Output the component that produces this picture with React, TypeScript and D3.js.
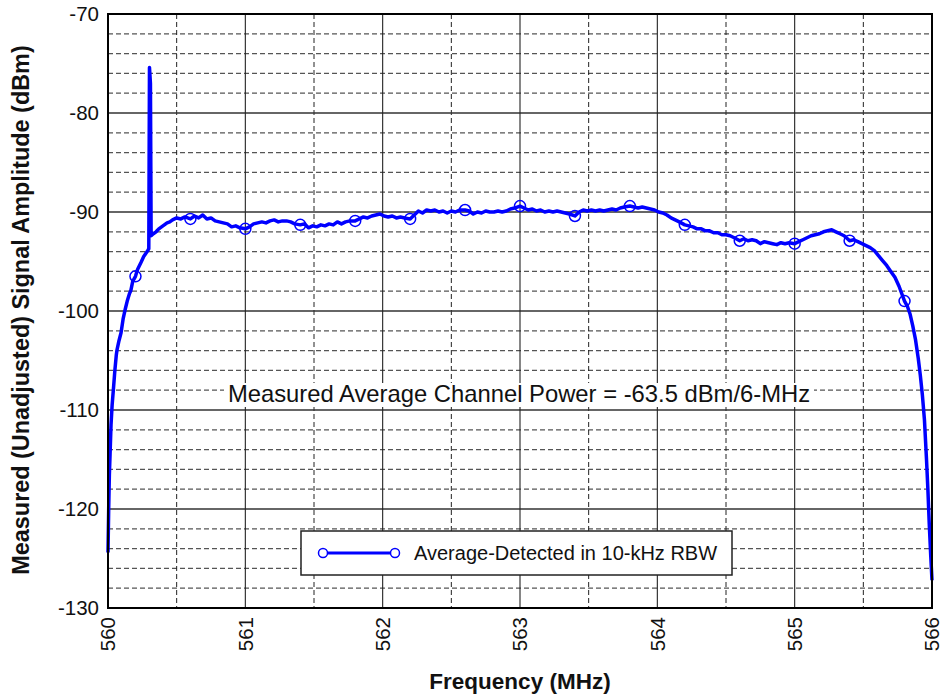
import React from "react";
import * as d3 from "d3";

// ---- data ----
const freqMHz: number[] = [
  560.0, 560.005, 560.01, 560.015, 560.022, 560.03, 560.04, 560.05, 560.06, 560.066, 560.08, 560.095,
  560.11, 560.124, 560.14, 560.155, 560.167, 560.18, 560.2, 560.215, 560.24, 560.26, 560.28, 560.29,
  560.297, 560.302, 560.309, 560.314, 560.33, 560.35, 560.37, 560.39, 560.41, 560.43, 560.45, 560.47,
  560.5, 560.53, 560.56, 560.6, 560.63, 560.66, 560.69, 560.72, 560.75, 560.78, 560.81, 560.84, 560.87,
  560.9, 560.93, 560.96, 561.0, 561.03, 561.06, 561.09, 561.12, 561.15, 561.18, 561.21, 561.24, 561.27,
  561.3, 561.33, 561.36, 561.4, 561.43, 561.46, 561.49, 561.52, 561.55, 561.58, 561.61, 561.64, 561.67,
  561.7, 561.73, 561.76, 561.8, 561.83, 561.86, 561.89, 561.92, 561.95, 561.98, 562.01, 562.04, 562.07,
  562.1, 562.13, 562.16, 562.2, 562.23, 562.26, 562.29, 562.32, 562.35, 562.38, 562.41, 562.44, 562.47,
  562.5, 562.53, 562.56, 562.6, 562.63, 562.66, 562.69, 562.72, 562.75, 562.78, 562.81, 562.84, 562.87,
  562.9, 562.93, 562.96, 563.0, 563.03, 563.06, 563.09, 563.12, 563.15, 563.18, 563.21, 563.24, 563.27,
  563.3, 563.33, 563.36, 563.4, 563.43, 563.46, 563.49, 563.52, 563.55, 563.58, 563.61, 563.64, 563.67,
  563.7, 563.73, 563.76, 563.8, 563.83, 563.86, 563.89, 563.92, 563.95, 563.98, 564.01, 564.04, 564.07,
  564.1, 564.13, 564.16, 564.2, 564.23, 564.26, 564.29, 564.32, 564.35, 564.38, 564.41, 564.44, 564.47,
  564.5, 564.53, 564.56, 564.6, 564.63, 564.66, 564.69, 564.72, 564.75, 564.78, 564.81, 564.84, 564.87,
  564.9, 564.93, 564.96, 565.0, 565.03, 565.06, 565.09, 565.12, 565.15, 565.18, 565.21, 565.24, 565.27,
  565.3, 565.33, 565.36, 565.4, 565.43, 565.46, 565.49, 565.52, 565.55, 565.58, 565.61, 565.64, 565.67,
  565.7, 565.73, 565.76, 565.8, 565.82, 565.84, 565.86, 565.88, 565.9, 565.915, 565.93, 565.945, 565.96,
  565.97, 565.98, 565.99, 566.0,
];

const amplitudeDbm: number[] = [
  -124.4, -120.0, -116.5, -114.5, -111.5, -109.5, -107.8, -106.0, -104.5, -103.9, -103.0, -102.2,
  -100.8, -99.9, -99.0, -98.3, -97.9, -97.0, -96.5, -95.8, -95.1, -94.5, -94.1, -93.9,
  -93.7, -75.4, -77.0, -92.4, -92.2, -92.0, -91.7, -91.5, -91.3, -91.1, -91.0, -90.8,
  -90.6, -90.7, -90.5, -90.7, -90.4, -90.6, -90.3, -90.7, -90.6, -90.9, -91.0, -91.1, -91.2,
  -91.5, -91.4, -91.6, -91.7, -91.5, -91.2, -91.1, -91.0, -91.1, -90.9, -90.8, -91.0, -90.9,
  -90.9, -91.0, -91.2, -91.3, -91.2, -91.6, -91.4, -91.5, -91.3, -91.4, -91.2, -91.3, -91.0,
  -91.2, -91.0, -90.9, -90.9, -90.7, -90.5, -90.6, -90.4, -90.3, -90.2, -90.4, -90.5, -90.4,
  -90.6, -90.5, -90.6, -90.7, -90.3, -89.9, -90.1, -89.8, -89.9, -89.8, -90.0, -89.9, -90.1,
  -89.9, -90.0, -89.8, -89.8, -89.9, -90.2, -90.0, -90.1, -89.9, -90.0, -90.0, -89.9, -90.0,
  -89.9, -89.7, -89.6, -89.4, -89.6, -89.8, -89.7, -89.9, -89.8, -90.0, -89.9, -90.0, -89.9,
  -90.0, -90.1, -90.2, -90.4, -90.0, -89.8, -89.9, -89.8, -89.9, -89.8, -89.9, -89.8, -89.7,
  -89.8, -89.6, -89.5, -89.4, -89.5, -89.6, -89.5, -89.6, -89.7, -89.8, -90.0, -90.1, -90.3,
  -90.6, -90.8, -91.0, -91.3, -91.4, -91.5, -91.7, -91.7, -91.9, -91.9, -92.1, -92.1, -92.3,
  -92.3, -92.4, -92.6, -92.9, -92.7, -92.9, -92.8, -92.9, -93.2, -93.0, -93.1, -93.2, -93.3,
  -93.1, -93.2, -93.1, -93.2, -93.0, -92.8, -92.6, -92.4, -92.3, -92.2, -92.0, -91.9, -91.8,
  -92.0, -92.2, -92.4, -92.9, -92.8, -93.0, -93.2, -93.4, -93.6, -93.9, -94.4, -94.9, -95.4,
  -96.0, -96.6, -97.5, -99.0, -99.5, -100.3, -101.5, -102.9, -104.8, -106.5, -108.5, -111.0, -115.0,
  -118.0, -121.5, -124.5, -127.2,
];

const markerFreqs: number[] = [560.2, 560.6, 561.0, 561.4, 561.8, 562.2, 562.6, 563.0, 563.4, 563.8, 564.2, 564.6, 565.0, 565.4, 565.8];

const xTicks: number[] = [560, 561, 562, 563, 564, 565, 566];
const yTicks: number[] = [-70, -80, -90, -100, -110, -120, -130];
const xMinor: number[] = [560.5, 561.5, 562.5, 563.5, 564.5, 565.5];
const yMinor: number[] = [-72, -74, -76, -78, -82, -84, -86, -88, -92, -94, -96, -98, -102, -104, -106, -108, -112, -114, -116, -118, -122, -124, -126, -128];

const seriesLabel = "Average-Detected in 10-kHz RBW";
const annotation = "Measured Average Channel Power = -63.5 dBm/6-MHz";
const xTitle = "Frequency (MHz)";
const yTitle = "Measured (Unadjusted) Signal Amplitude (dBm)";

const W = 940;
const H = 698;
const left = 108, right = 932, top = 14, bottom = 608;
const FONT = "Arial, 'Liberation Sans', Helvetica, sans-serif";
const BLUE = "#0000ff";

export default function App() {
  const x = d3.scaleLinear().domain([560, 566]).range([left, right]);
  const y = d3.scaleLinear().domain([-130, -70]).range([bottom, top]);
  const pts: [number, number][] = freqMHz.map((f, i) => [f, amplitudeDbm[i]]);
  const line = d3.line<[number, number]>().x(d => x(d[0])).y(d => y(d[1]));
  const markers = markerFreqs.map(mf => {
    let best = pts[0];
    for (const p of pts) if (Math.abs(p[0] - mf) < Math.abs(best[0] - mf)) best = p;
    return best;
  });

  return (
    <svg width={W} height={H} style={{ position: "absolute", left: 0, top: 0, background: "#fff" }} fontFamily={FONT}>
      <rect x={0} y={0} width={W} height={H} fill="#fff" />
      {/* minor grid */}
      {yMinor.map(v => (
        <line key={"ym" + v} x1={left} x2={right} y1={y(v)} y2={y(v)} stroke="#555" strokeWidth={1.2} strokeDasharray="5,3" />
      ))}
      {xMinor.map(v => (
        <line key={"xm" + v} x1={x(v)} x2={x(v)} y1={top} y2={bottom} stroke="#222" strokeWidth={1} strokeDasharray="5,3" />
      ))}
      {/* major grid */}
      {yTicks.map(v => (
        <line key={"yM" + v} x1={left} x2={right} y1={y(v)} y2={y(v)} stroke="#333" strokeWidth={1.3} />
      ))}
      {xTicks.map(v => (
        <line key={"xM" + v} x1={x(v)} x2={x(v)} y1={top} y2={bottom} stroke="#222" strokeWidth={1.1} />
      ))}

      {/* annotation with white backing */}
      <rect x={224} y={383} width={590} height={24} fill="#fff" />
      <text x={519} y={402} textAnchor="middle" fontSize={23.8} fill="#111">{annotation}</text>

      {/* data line */}
      <path d={line(pts) || ""} fill="none" stroke={BLUE} strokeWidth={3.5} strokeLinejoin="round" />
      {markers.map((p, i) => (
        <circle key={"m" + i} cx={x(p[0])} cy={y(p[1])} r={5.5} fill="none" stroke={BLUE} strokeWidth={1.5} />
      ))}

      {/* legend */}
      <rect x={301} y={531} width={431} height={44} fill="#fff" stroke="#222" strokeWidth={1.5} />
      <line x1={323} x2={395} y1={553} y2={553} stroke={BLUE} strokeWidth={3} />
      <circle cx={323} cy={553} r={4.5} fill="#fff" stroke={BLUE} strokeWidth={1.5} />
      <circle cx={395} cy={553} r={4.5} fill="#fff" stroke={BLUE} strokeWidth={1.5} />
      <text x={414} y={560} fontSize={20} fill="#111">{seriesLabel}</text>

      {/* frame */}
      <rect x={left} y={top} width={right - left} height={bottom - top} fill="none" stroke="#000" strokeWidth={2} />

      {/* y tick labels */}
      {yTicks.map(v => (
        <text key={"yl" + v} x={99} y={y(v)} dy="0.36em" textAnchor="end" fontSize={20.5} fill="#111">{v}</text>
      ))}
      {/* x tick labels */}
      {xTicks.map(v => (
        <text key={"xl" + v} transform={`translate(${x(v) + 7.3},${617}) rotate(-90)`} textAnchor="end" fontSize={20.5} fill="#111">{v}</text>
      ))}

      {/* axis titles */}
      <text x={520} y={689} textAnchor="middle" fontSize={22.5} fontWeight="bold" fill="#111">{xTitle}</text>
      <text transform={`translate(29,${310}) rotate(-90)`} textAnchor="middle" fontSize={23.4} fontWeight="bold" fill="#111">{yTitle}</text>
    </svg>
  );
}
